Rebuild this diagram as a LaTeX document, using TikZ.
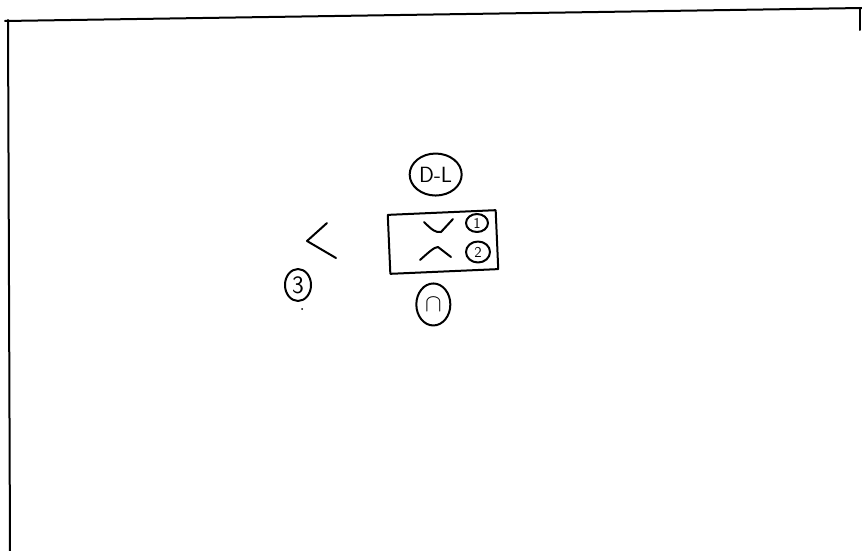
\documentclass[tikz,border=0pt]{standalone}
\usepackage{tikz}
\usetikzlibrary{positioning, shapes.geometric}

\begin{document}
\begin{tikzpicture}[x=1pt, y=-1pt, line width=2pt, line cap=round, line join=round]
        \tikzstyle{circ} = [ellipse, draw, inner sep=0pt, font=\sffamily\fontsize{22}{22}\selectfont]
        \tikzstyle{tag} = [ellipse, draw, inner sep=0pt, font=\sffamily\fontsize{15}{15}\selectfont]
        \tikzstyle{panel} = [rectangle, draw, minimum width=108pt, minimum height=59pt, rotate=2.5]

        \useasboundingbox (0,0) rectangle (862,551);
        % frame of the sheet
        \draw (5,21) -- (862,8);
        \draw (8,20) -- (10,551);
        \draw (860,8) -- (860,30);

        \node [panel] (box) at (443,242) {};
        \node [circ, minimum width=52pt, minimum height=42pt, above=15pt of box, xshift=-6pt] (dl) {D-L};
        \node [circ, minimum width=34pt, minimum height=42pt, below=10pt of box, xshift=-11pt, font=\fontsize{34}{34}\selectfont] (cap) {$\cap$};
        \node [tag, minimum width=22pt, minimum height=18pt] (one) at (477,223) {1};
        \node [tag, minimum width=24pt, minimum height=21pt] (two) at (478,252) {2};
        \node [circ, minimum width=26pt, minimum height=32pt, font=\sffamily\fontsize{25}{25}\selectfont] (three) at (298,285) {3};

        % strokes
        \draw (424,222) .. controls (432,230) and (436,233) .. (441,232) -- (453,219);
        \draw (420,260) .. controls (428,253) and (434,247) .. (438,247) -- (451,257);
        \draw (327,223) -- (307,241) -- (336,258);
        \fill (302,309) circle (1pt);
    \end{tikzpicture}
\end{document}
